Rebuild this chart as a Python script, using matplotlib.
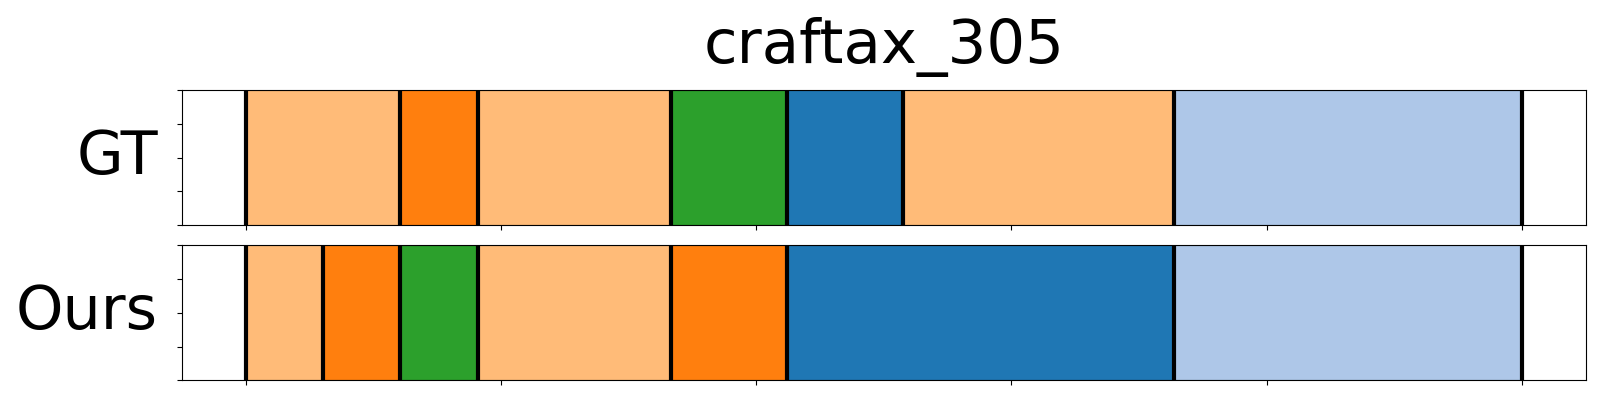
import matplotlib
matplotlib.use("Agg")
import matplotlib.pyplot as plt
import numpy as np

title = "craftax_305"
total_steps = 33
row_labels = ["GT", "Ours"]
gt_bounds = [0, 4, 6, 11, 14, 17, 24, 33]
gt_classes = ["c1", "c0", "c1", "c2", "c3", "c1", "c4"]
ours_bounds = [0, 2, 4, 6, 11, 14, 24, 33]
ours_classes = ["c1", "c0", "c2", "c1", "c0", "c3", "c4"]

palette = {"c0": "#ff7f0e", "c1": "#ffbb78", "c2": "#2ca02c", "c3": "#1f77b4", "c4": "#aec7e8"}

fig = plt.figure(figsize=(16, 4), dpi=100)
ax1 = fig.add_axes([0.1136, 0.4375, 0.8775, 0.3367])
ax2 = fig.add_axes([0.1136, 0.049, 0.8775, 0.3377])

def darker(c, f=0.85):
    r, g, b = matplotlib.colors.to_rgb(c)
    return (r * f, g * f, b * f)

for ax, bounds, classes, lab in [(ax1, gt_bounds, gt_classes, row_labels[0]),
                                 (ax2, ours_bounds, ours_classes, row_labels[1])]:
    b = np.array(bounds) / total_steps
    for i, cls in enumerate(classes):
        ax.barh(0.5, b[i + 1] - b[i], left=b[i], height=1.0,
                color=palette[cls], edgecolor=darker(palette[cls]), linewidth=1.0)
    for x in b:
        ax.axvline(x, color="black", linewidth=3, zorder=3)
    ax.set_xlim(-0.05, 1.05)
    ax.set_ylim(0, 1)
    ax.set_xticks(np.linspace(0, 1, 6))
    ax.set_yticks([0, 0.25, 0.5, 0.75, 1.0])
    ax.set_xticklabels([])
    ax.set_yticklabels([])
    ax.set_ylabel(lab, fontsize=43.5, rotation=0, ha="right", va="center")
    ax.yaxis.set_label_coords(-0.017, 0.5)

ax1.set_title(title, fontsize=44, pad=20)

fig.savefig("out.png", dpi=100)
